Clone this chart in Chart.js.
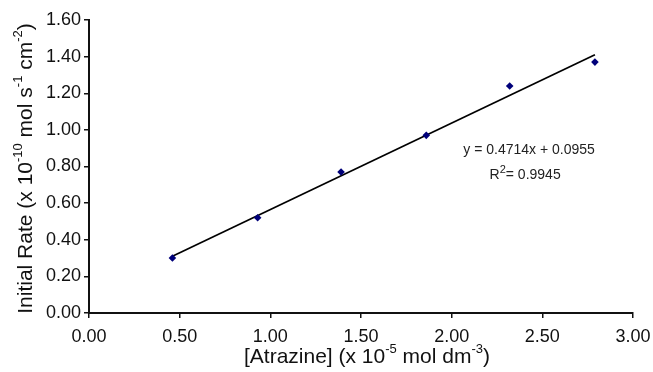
<!DOCTYPE html>
<html>
<head>
<meta charset="utf-8">
<script src="https://cdn.jsdelivr.net/npm/chart.js@4/dist/chart.umd.min.js"></script>
<style>
  html, body { margin: 0; padding: 0; background: #fff; }
  #wrap { width: 653px; height: 372px; position: relative; }
</style>
</head>
<body>
<div id="wrap"><canvas id="rateChart"></canvas></div>
<script>
// --- DATA ---
const atrazineConc = [0.46, 0.93, 1.39, 1.86, 2.32, 2.79];
const initialRate = [0.30, 0.52, 0.77, 0.97, 1.24, 1.37];
const trendX = [0.46, 2.79];
const trendY = [0.31, 1.41];
const xTicks = [0, 0.5, 1, 1.5, 2, 2.5, 3];
const yTicks = [0, 0.2, 0.4, 0.6, 0.8, 1, 1.2, 1.4, 1.6];
const fitLines = [
  [{ t: 'y = 0.4714x + 0.0955' }],
  [{ t: 'R' }, { t: '2', sup: true }, { t: '= 0.9945' }]
];
const yTitle = [
  { t: 'Initial Rate (x 10' }, { t: '-10', sup: true }, { t: ' mol s' },
  { t: '-1', sup: true }, { t: ' cm' }, { t: '-2', sup: true }, { t: ')' }
];
const xTitle = [
  { t: '[Atrazine] (x 10' }, { t: '-5', sup: true }, { t: ' mol dm' },
  { t: '-3', sup: true }, { t: ')' }
];

const FONT = '"Liberation Sans", Arial, sans-serif';

// draws text made of normal + superscript pieces, centred on (0,0)
function richText(ctx, parts, size, supScale) {
  const supSize = Math.round(size * (supScale || 0.62));
  let total = 0;
  parts.forEach(p => {
    ctx.font = (p.sup ? supSize : size) + 'px ' + FONT;
    p.w = ctx.measureText(p.t).width;
    total += p.w;
  });
  let x = -total / 2;
  ctx.textBaseline = 'middle';
  ctx.textAlign = 'left';
  parts.forEach(p => {
    ctx.font = (p.sup ? supSize : size) + 'px ' + FONT;
    ctx.fillText(p.t, x, p.sup ? -size * 0.38 : 0);
    x += p.w;
  });
}

const labelsPlugin = {
  id: 'labels',
  afterDraw(chart) {
    const ctx = chart.ctx;
    const a = chart.chartArea;
    const xs = chart.scales.x, ys = chart.scales.y;
    ctx.save();
    ctx.fillStyle = '#111';
    // y axis title
    ctx.save();
    ctx.translate(26, (a.top + a.bottom) / 2 + 2);
    ctx.rotate(-Math.PI / 2);
    richText(ctx, yTitle, 21);
    ctx.restore();
    // x axis title
    ctx.save();
    ctx.translate((a.left + a.right) / 2 + 6, 357);
    richText(ctx, xTitle, 21);
    ctx.restore();
    // regression note
    ctx.fillStyle = '#222';
    ctx.save();
    ctx.translate(xs.getPixelForValue(2.427), ys.getPixelForValue(0.89));
    richText(ctx, fitLines[0], 14);
    ctx.restore();
    ctx.save();
    ctx.translate(xs.getPixelForValue(2.405), ys.getPixelForValue(0.754));
    richText(ctx, fitLines[1], 14, 0.75);
    ctx.restore();
    ctx.restore();
  }
};

const axisStyle = {
  grid: { display: true, drawOnChartArea: false, drawTicks: true, tickLength: 5, tickColor: '#111', lineWidth: 1.5 },
  border: { display: true, color: '#111', width: 2 }
};

new Chart(document.getElementById('rateChart'), {
  type: 'scatter',
  data: {
    datasets: [
      {
        label: 'Initial rate',
        data: atrazineConc.map((c, i) => ({ x: c, y: initialRate[i] })),
        pointStyle: 'rectRot',
        pointRadius: 3.8,
        backgroundColor: '#00007a',
        borderColor: '#00007a',
        borderWidth: 0,
        order: 1
      },
      {
        label: 'Linear fit',
        data: trendX.map((x, i) => ({ x: x, y: trendY[i] })),
        showLine: true,
        pointRadius: 0,
        borderColor: '#000',
        borderWidth: 1.7,
        order: 2
      }
    ]
  },
  options: {
    responsive: true,
    maintainAspectRatio: false,
    animation: false,
    devicePixelRatio: 1,
    layout: { padding: { top: 20, right: 20, left: 0, bottom: 0 } },
    plugins: { legend: { display: false }, tooltip: { enabled: false } },
    scales: {
      x: {
        type: 'linear',
        min: 0,
        max: 3,
        afterBuildTicks: s => { s.ticks = xTicks.map(v => ({ value: v })); },
        afterFit: s => { s.height = 59; s.paddingLeft = 0; s.paddingRight = 0; },
        ticks: {
          color: '#111',
          font: { family: FONT, size: 18 },
          padding: 8,
          callback: v => v.toFixed(2)
        },
        ...axisStyle
      },
      y: {
        type: 'linear',
        min: 0,
        max: 1.6,
        afterBuildTicks: s => { s.ticks = yTicks.map(v => ({ value: v })); },
        afterFit: s => { s.width = 89; s.paddingTop = 0; s.paddingBottom = 0; },
        ticks: {
          color: '#111',
          font: { family: FONT, size: 18 },
          padding: 3,
          callback: v => v.toFixed(2)
        },
        ...axisStyle
      }
    }
  },
  plugins: [labelsPlugin]
});
</script>
</body>
</html>
